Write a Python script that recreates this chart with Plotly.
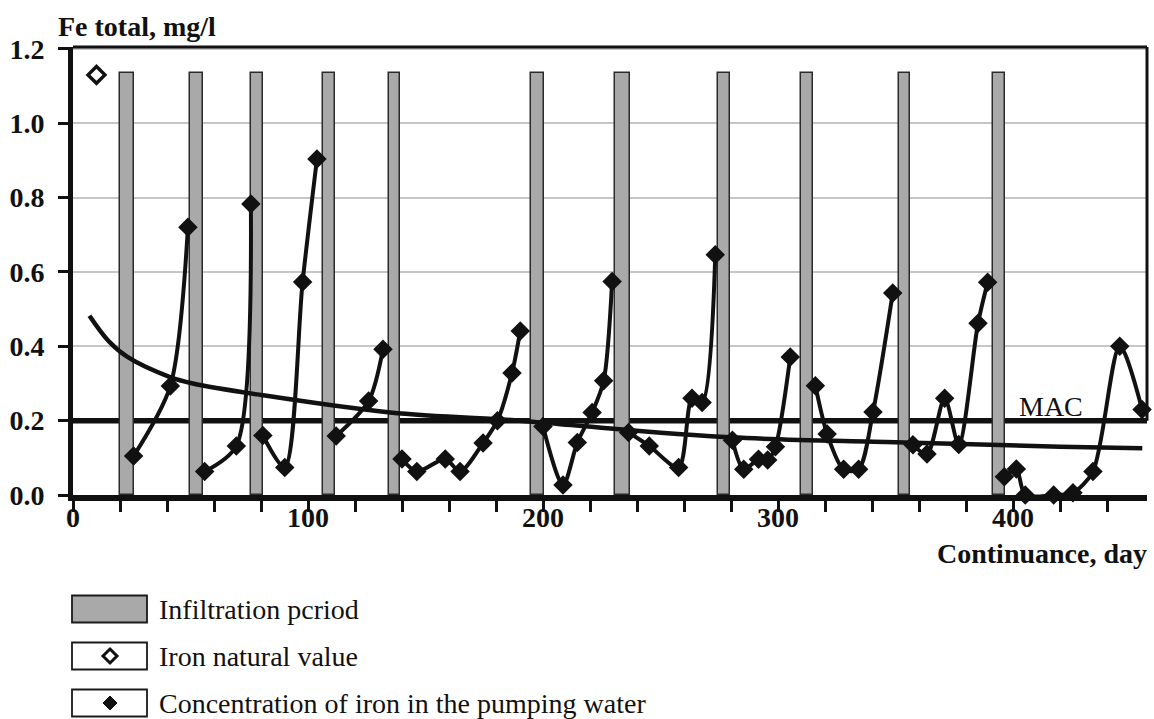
import plotly.graph_objects as go

# ---------------- data ----------------
infil_start = [20.0, 49.9, 75.7, 106.4, 134.3, 195.0, 230.5, 274.5, 309.8, 351.3, 391.5]
infil_end = [25.8, 55.3, 80.9, 111.6, 139.3, 200.4, 236.9, 279.7, 314.9, 356.3, 396.7]
infil_level = 1.135

natural_day = [10]
natural_fe = [1.13]

# pumping cycles, None separates the cycles (line is broken after each peak)
pump_day = [25.8, 41.4, 48.9, None,
            56.0, 69.5, 75.7, None,
            80.8, 90.1, 97.7, 103.8, None,
            112.0, 125.8, 131.9, None,
            140.0, 146.3, 158.4, 164.7, 174.5, 180.6, 186.8, 190.3, None,
            200.0, 208.5, 214.6, 220.9, 225.8, 229.4, None,
            236.4, 245.2, 257.7, 263.4, 267.7, 273.3, None,
            280.6, 285.4, 291.7, 295.6, 298.9, 305.2, None,
            315.9, 320.9, 327.9, 334.3, 340.4, 348.8, None,
            357.4, 363.4, 370.9, 376.9, 385.1, 389.2, None,
            396.3, 401.4, 405.2, 417.3, 425.5, 434.0, 445.4, 454.9]
pump_fe = [0.105, 0.293, 0.720, None,
           0.063, 0.132, 0.783, None,
           0.160, 0.074, 0.573, 0.904, None,
           0.159, 0.253, 0.392, None,
           0.097, 0.063, 0.097, 0.063, 0.140, 0.200, 0.328, 0.441, None,
           0.184, 0.027, 0.141, 0.222, 0.307, 0.574, None,
           0.168, 0.132, 0.074, 0.260, 0.249, 0.646, None,
           0.147, 0.069, 0.096, 0.094, 0.130, 0.371, None,
           0.294, 0.164, 0.069, 0.069, 0.223, 0.543, None,
           0.135, 0.110, 0.260, 0.136, 0.462, 0.572, None,
           0.049, 0.070, 0.000, 0.000, 0.006, 0.063, 0.400, 0.230]

trend_day = [7, 15, 23, 41, 51, 80, 135, 190, 212, 280, 350, 420, 455]
trend_fe = [0.482, 0.415, 0.372, 0.318, 0.300, 0.269, 0.222, 0.200, 0.188, 0.155, 0.142, 0.130, 0.126]

mac_value = 0.2
y_ticks = [0.0, 0.2, 0.4, 0.6, 0.8, 1.0, 1.2]
x_ticks = [0, 100, 200, 300, 400]

legend_labels = ["Infiltration pcriod", "Iron natural value",
                 "Concentration of iron in the pumping water"]

# ---------------- layout constants ----------------
W, H = 1154, 719
ML, MR, MT, MB = 73, 7, 47, 224
X_MAX = 457
Y_MAX = 1.205
INK = "#111111"
GRAY = "#a9a9a9"
SERIF = "Liberation Serif, Times New Roman, serif"

PW = W - ML - MR
PH = H - MT - MB


def px2x(px):
    return (px - ML) / PW


def py2y(py):
    return (H - MB - py) / PH


fig = go.Figure()

# infiltration periods as bars
fig.add_trace(go.Bar(
    x=[(s + e) / 2 for s, e in zip(infil_start, infil_end)],
    y=[infil_level] * len(infil_start),
    width=[e - s for s, e in zip(infil_start, infil_end)],
    marker=dict(color=GRAY, line=dict(color="#2a2a2a", width=1.5)),
    showlegend=False, hoverinfo="skip"))

# trend curve
fig.add_trace(go.Scatter(
    x=trend_day, y=trend_fe, mode="lines",
    line=dict(color=INK, width=4.5, shape="spline", smoothing=1.0),
    showlegend=False, hoverinfo="skip"))

# pumping water concentration
fig.add_trace(go.Scatter(
    x=pump_day, y=pump_fe, mode="lines+markers",
    line=dict(color=INK, width=4, shape="spline", smoothing=0.8),
    marker=dict(symbol="diamond", size=15, color=INK),
    connectgaps=False, cliponaxis=False, showlegend=False))

# iron natural value
fig.add_trace(go.Scatter(
    x=natural_day, y=natural_fe, mode="markers",
    marker=dict(symbol="diamond", size=13, color="white",
                line=dict(color=INK, width=3.5)),
    cliponaxis=False, showlegend=False))

shapes = []
# MAC line
shapes.append(dict(type="line", xref="x", yref="y", x0=0, x1=X_MAX,
                   y0=mac_value, y1=mac_value, layer="between",
                   line=dict(color=INK, width=5.5)))
# top border
shapes.append(dict(type="line", xref="paper", yref="paper", x0=0, x1=1,
                   y0=1, y1=1, line=dict(color=INK, width=3)))
# right border
shapes.append(dict(type="line", xref="paper", yref="y", x0=1, x1=1,
                   y0=mac_value, y1=Y_MAX, line=dict(color=INK, width=3)))

# ---------------- custom legend ----------------
row_cy = [609, 656, 703]
box_x0, box_x1, box_h = 72, 147, 27
annotations = []
for i, (cy, label) in enumerate(zip(row_cy, legend_labels)):
    shapes.append(dict(type="rect", xref="paper", yref="paper",
                       x0=px2x(box_x0), x1=px2x(box_x1),
                       y0=py2y(cy + box_h / 2), y1=py2y(cy - box_h / 2),
                       fillcolor=GRAY if i == 0 else "white",
                       line=dict(color="#1a1a1a", width=1.8)))
    annotations.append(dict(xref="paper", yref="paper", x=px2x(157), y=py2y(cy),
                            xanchor="left", yanchor="middle", showarrow=False,
                            text=label, font=dict(family=SERIF, size=28, color=INK)))
    if i > 0:
        cx, d = 110, 7
        path = "M {a},{b} L {c},{d2} L {a},{e} L {f},{d2} Z".format(
            a=px2x(cx), b=py2y(cy - d), c=px2x(cx + d), d2=py2y(cy),
            e=py2y(cy + d), f=px2x(cx - d))
        shapes.append(dict(type="path", xref="paper", yref="paper", path=path,
                           fillcolor="white" if i == 1 else INK,
                           line=dict(color=INK, width=3 if i == 1 else 1)))

# axis titles and MAC label
annotations.append(dict(xref="paper", yref="paper", x=px2x(56), y=py2y(26),
                        xanchor="left", yanchor="middle", showarrow=False,
                        text="Fe total, mg/l",
                        font=dict(family=SERIF, size=28, color=INK, weight="bold")))
annotations.append(dict(xref="paper", yref="paper", x=px2x(1149), y=py2y(553),
                        xanchor="right", yanchor="middle", showarrow=False,
                        text="Continuance, day",
                        font=dict(family=SERIF, size=28, color=INK, weight="bold")))
annotations.append(dict(xref="x", yref="y", x=401.5, y=0.238,
                        xanchor="left", yanchor="middle", showarrow=False,
                        text="MAC", font=dict(family=SERIF, size=28, color=INK)))

fig.update_layout(
    width=W, height=H, autosize=False,
    margin=dict(l=ML, r=MR, t=MT, b=MB, pad=0),
    paper_bgcolor="white", plot_bgcolor="white",
    bargap=0, barmode="overlay",
    shapes=shapes, annotations=annotations,
    showlegend=False,
)

fig.update_xaxes(
    range=[0, X_MAX], showgrid=False, zeroline=False,
    showline=True, linecolor=INK, linewidth=5.5,
    tickmode="array", tickvals=x_ticks, ticktext=[str(v) for v in x_ticks],
    ticks="outside", ticklen=11, tickwidth=2.5, tickcolor=INK,
    minor=dict(dtick=20, tick0=0, ticks="outside", ticklen=11, tickwidth=2.5,
               tickcolor=INK, showgrid=False),
    tickfont=dict(family=SERIF, size=28, color=INK, weight="bold"),
    ticklabelstandoff=-18,
)
fig.update_yaxes(
    range=[0, Y_MAX], zeroline=False,
    showgrid=True, gridcolor="#c6c6c6", gridwidth=2,
    showline=True, linecolor=INK, linewidth=5,
    tickmode="array", tickvals=y_ticks, ticktext=["%.1f" % v for v in y_ticks],
    ticks="outside", ticklen=10, tickwidth=2.5, tickcolor=INK,
    tickfont=dict(family=SERIF, size=28, color=INK, weight="bold"),
    ticklabelstandoff=8,
)

fig.write_html("out.html")
